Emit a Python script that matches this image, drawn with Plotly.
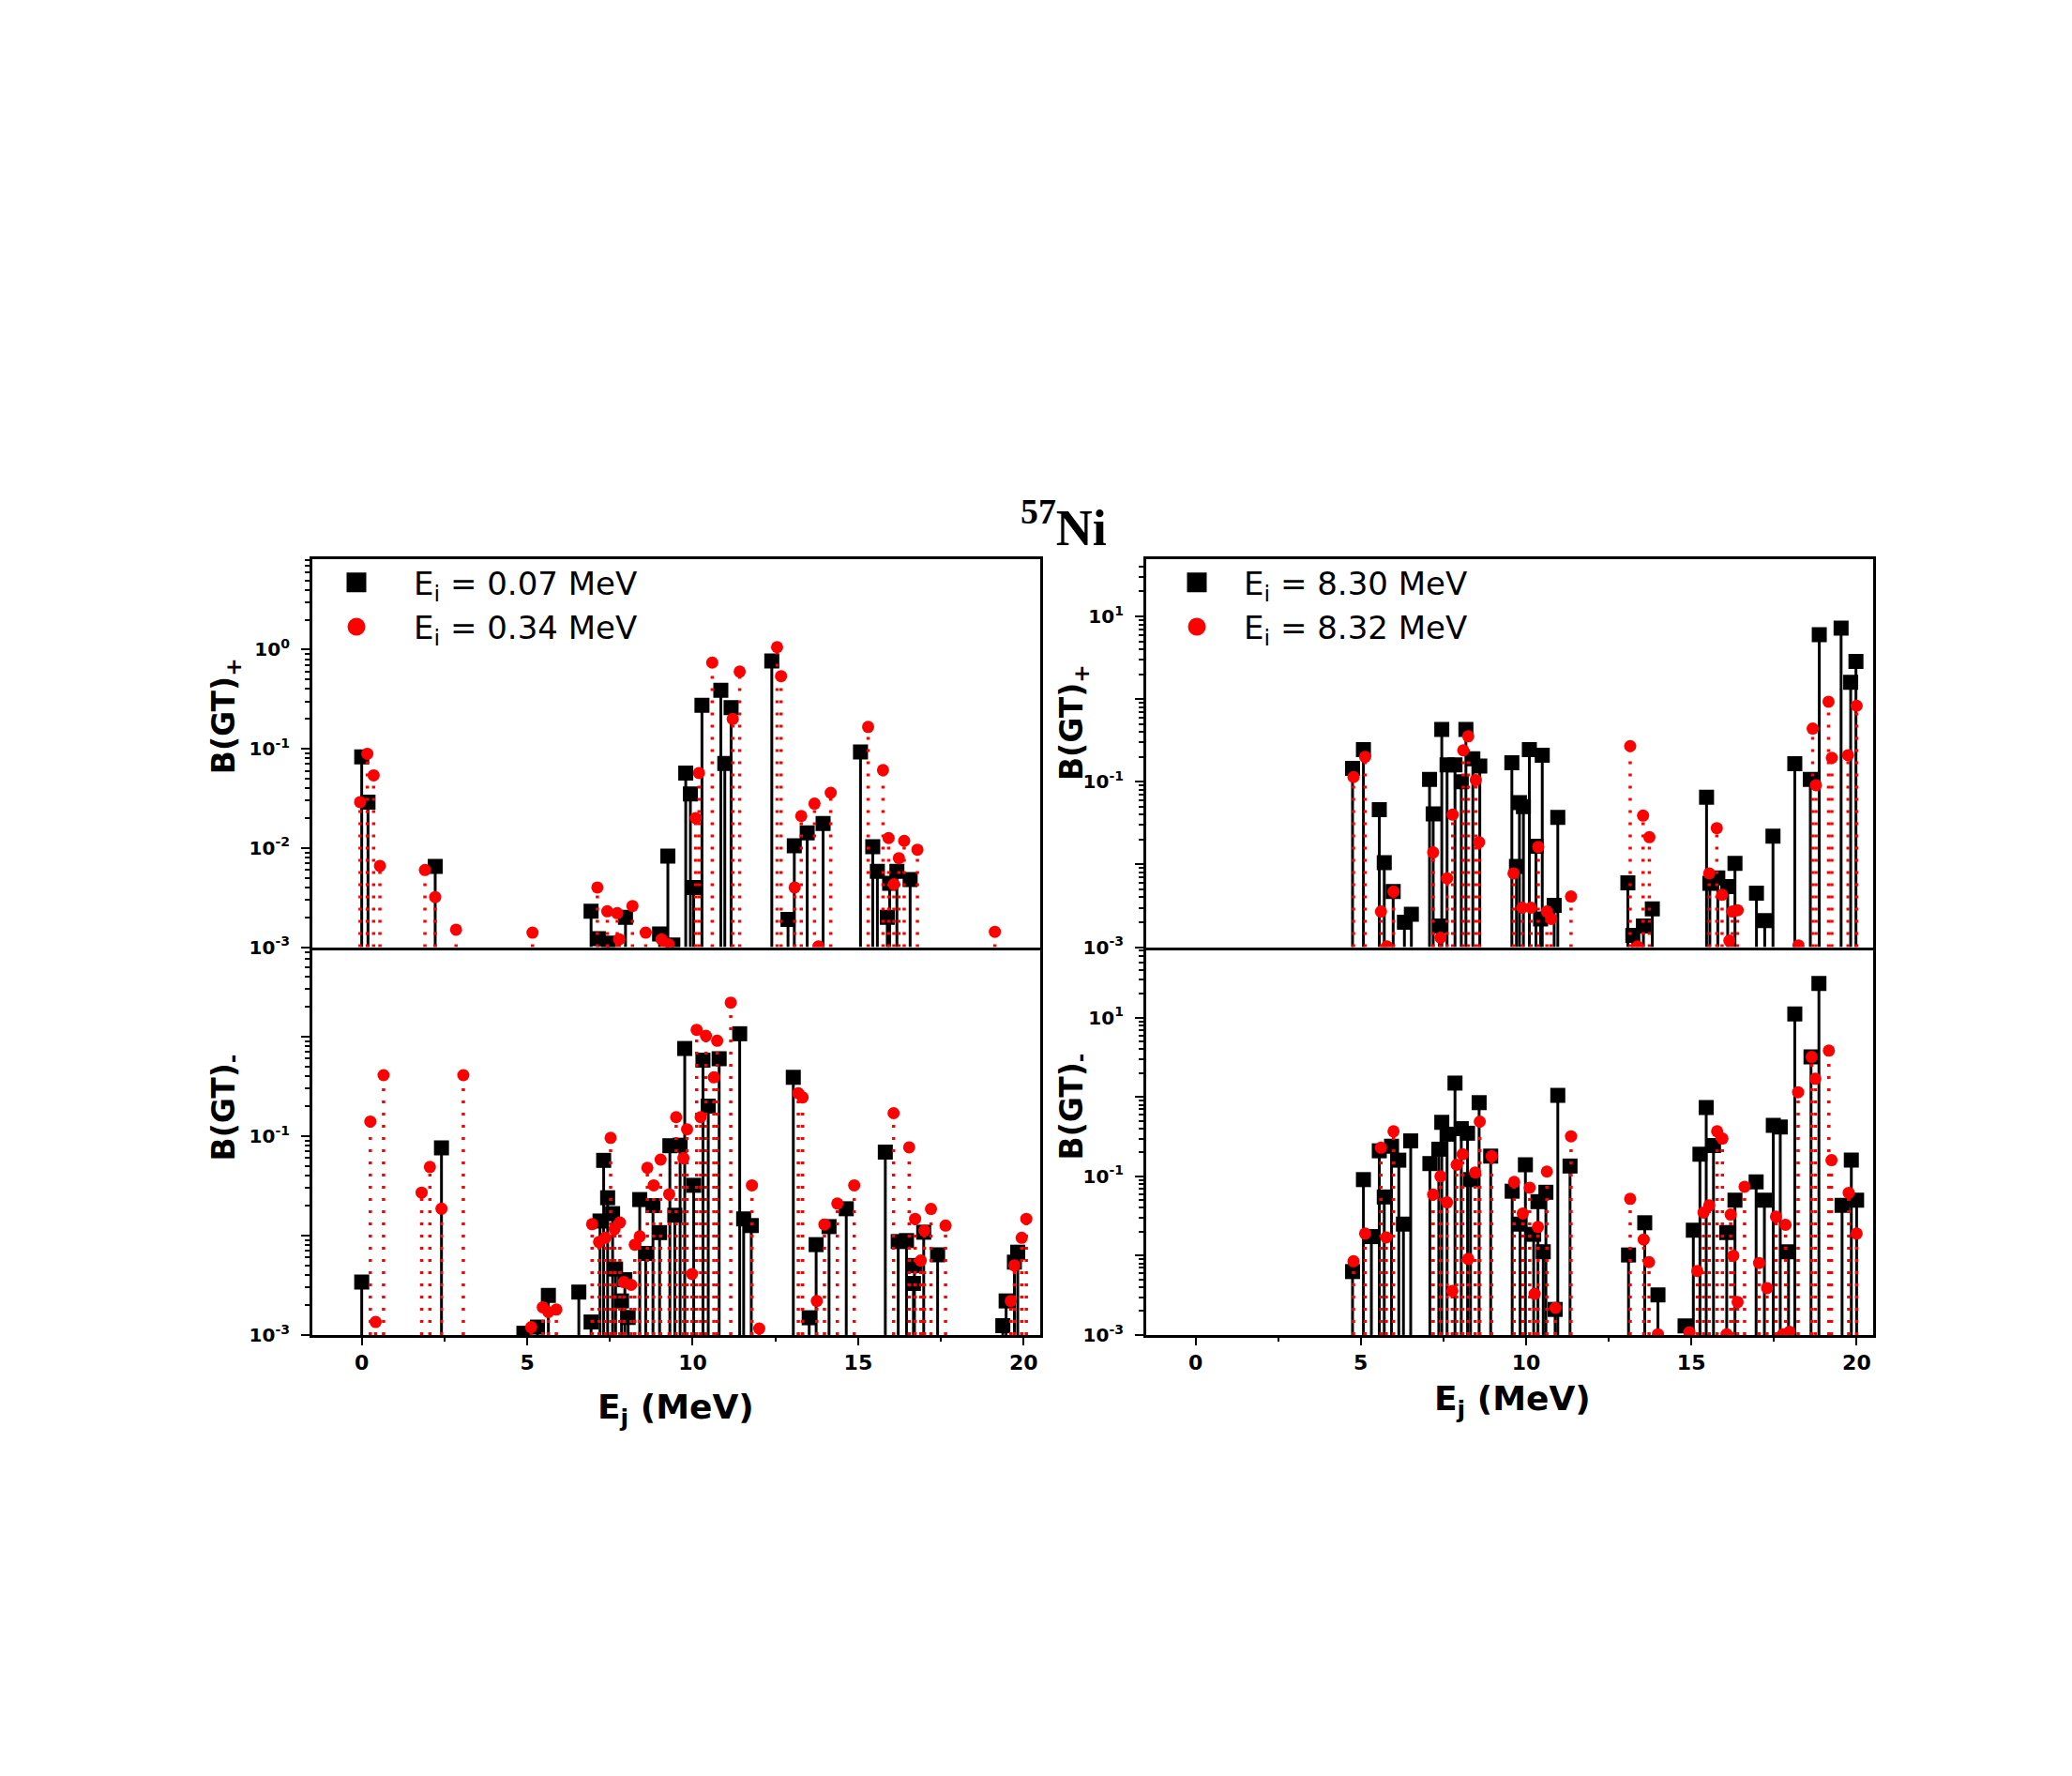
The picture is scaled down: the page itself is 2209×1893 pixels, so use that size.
import plotly.graph_objects as go

# B(GT)+ , left (Ei = 0.07 / 0.34 MeV)
tl_x_a = [0.0, 0.19, 2.22, 6.93, 7.15, 7.45, 7.97, 9.0, 9.25, 9.4, 9.79, 9.93, 10.03, 10.28, 10.85,
          10.97, 11.16, 12.39, 12.88, 13.07, 13.46, 13.94, 15.07, 15.44, 15.58, 15.88, 15.95, 16.17, 16.57]
tl_y_a = [0.083, 0.029, 0.0065, 0.0023, 0.00122, 0.0011, 0.0020, 0.00136, 0.0083, 0.00105, 0.057, 0.035,
          0.0040, 0.275, 0.39, 0.071, 0.26, 0.77, 0.0019, 0.0105, 0.0142, 0.0177, 0.093, 0.0103, 0.0058,
          0.0020, 0.0044, 0.0058, 0.0048]
tl_x_b = [-0.05, 0.17, 0.36, 0.55, 1.91, 2.22, 2.85, 5.16, 7.12, 7.42, 7.72, 7.78, 8.18, 8.58, 9.06, 9.27,
          10.09, 10.19, 10.59, 11.21, 11.42, 12.55, 12.67, 13.08, 13.28, 13.68, 13.8, 14.17, 15.30, 15.75,
          15.92, 16.08, 16.23, 16.39, 16.79, 19.13]
tl_y_b = [0.029, 0.089, 0.054, 0.0066, 0.0060, 0.0032, 0.0015, 0.0014, 0.0040, 0.0023, 0.0022, 0.0012,
          0.0026, 0.0014, 0.0012, 0.00107, 0.020, 0.057, 0.74, 0.20, 0.60, 1.06, 0.54, 0.0040, 0.021,
          0.028, 0.00102, 0.036, 0.166, 0.061, 0.0126, 0.0043, 0.0079, 0.0118, 0.0096, 0.00143]

# B(GT)- , left
bl_x_a = [0.0, 2.41, 4.9, 5.31, 5.64, 6.56, 6.93, 7.2, 7.31, 7.43, 7.58, 7.67, 7.85, 7.95, 8.05, 8.4, 8.58,
          8.8, 9.0, 9.31, 9.46, 9.62, 9.76, 10.03, 10.31, 10.47, 10.8, 11.42, 11.54, 11.77, 13.04, 13.52,
          13.73, 14.12, 14.64, 15.82, 16.21, 16.46, 16.67, 16.7, 16.98, 17.4, 19.37, 19.47, 19.72, 19.82]
bl_y_a = [0.0034, 0.076, 0.00104, 0.0012, 0.0025, 0.0027, 0.00135, 0.014, 0.057, 0.024, 0.0166, 0.0046,
          0.0022, 0.0036, 0.0015, 0.023, 0.0066, 0.020, 0.0107, 0.08, 0.016, 0.081, 0.76, 0.032, 0.58, 0.20,
          0.60, 1.07, 0.0147, 0.0126, 0.39, 0.00149, 0.0081, 0.0123, 0.0186, 0.069, 0.0087, 0.0089, 0.0033,
          0.0050, 0.0108, 0.0064, 0.00124, 0.0022, 0.0054, 0.0068]
bl_x_b = [0.26, 0.42, 0.66, 1.81, 2.06, 2.41, 3.07, 5.12, 5.47, 5.64, 5.88, 6.96, 7.17, 7.36, 7.52, 7.64,
          7.8, 7.92, 8.14, 8.25, 8.4, 8.63, 8.82, 9.03, 9.29, 9.5, 9.72, 9.83, 9.98, 10.12, 10.24, 10.4,
          10.64, 10.74, 11.15, 11.79, 12.01, 13.19, 13.32, 13.75, 13.98, 14.37, 14.88, 16.07, 16.54, 16.72,
          16.89, 17.0, 17.2, 17.64, 19.61, 19.72, 19.94, 20.08]
bl_y_b = [0.14, 0.00135, 0.41, 0.027, 0.049, 0.0186, 0.41, 0.0012, 0.0019, 0.0017, 0.0018, 0.0130, 0.0086,
          0.0095, 0.096, 0.0116, 0.0135, 0.0034, 0.0032, 0.0081, 0.0098, 0.048, 0.032, 0.058, 0.026, 0.155,
          0.060, 0.117, 0.0041, 1.17, 0.155, 1.02, 0.39, 0.91, 2.2, 0.032, 0.00116, 0.27, 0.245, 0.0022,
          0.0129, 0.021, 0.032, 0.17, 0.077, 0.0147, 0.0056, 0.0112, 0.0185, 0.0126, 0.0022, 0.0050, 0.0095,
          0.0147]

# B(GT)+ , right (Ei = 8.30 / 8.32 MeV)
tr_x_a = [4.75, 5.08, 5.56, 5.71, 5.98, 6.32, 6.53, 7.08, 7.19, 7.38, 7.45, 7.61, 7.85, 8.04, 8.18, 8.39,
          8.6, 9.57, 9.71, 9.8, 9.92, 10.1, 10.3, 10.44, 10.49, 10.85, 10.96, 13.08, 13.23, 13.55, 13.82,
          15.46, 15.56, 15.8, 16.1, 16.32, 16.97, 17.22, 17.47, 18.13, 18.6, 18.87, 19.53, 19.82, 19.98]
tr_y_a = [0.145, 0.245, 0.046, 0.0105, 0.0047, 0.0020, 0.0025, 0.107, 0.041, 0.0018, 0.43, 0.16, 0.16, 0.10,
          0.43, 0.19, 0.155, 0.17, 0.0095, 0.056, 0.050, 0.245, 0.0166, 0.0022, 0.21, 0.0032, 0.037, 0.0060,
          0.00139, 0.0018, 0.0029, 0.065, 0.0059, 0.0069, 0.0054, 0.0103, 0.0045, 0.0021, 0.022, 0.166,
          0.107, 6.0, 7.2, 1.6, 2.85]
tr_x_b = [4.78, 5.13, 5.61, 5.79, 5.99, 7.19, 7.41, 7.61, 7.78, 8.1, 8.25, 8.48, 8.58, 9.62, 9.88, 10.15,
          10.37, 10.63, 10.76, 11.36, 13.15, 13.37, 13.54, 13.73, 15.54, 15.77, 15.93, 16.15, 16.24, 16.4,
          18.24, 18.67, 18.77, 19.15, 19.25, 19.74, 20.0]
tr_y_b = [0.114, 0.20, 0.0027, 0.00102, 0.0047, 0.014, 0.0013, 0.0068, 0.040, 0.24, 0.355, 0.105, 0.0186,
          0.0078, 0.0030, 0.0030, 0.0163, 0.0027, 0.0022, 0.0041, 0.27, 0.00102, 0.039, 0.0214, 0.0078,
          0.0275, 0.0043, 0.0012, 0.0027, 0.0028, 0.00105, 0.44, 0.091, 0.93, 0.195, 0.21, 0.83]

# B(GT)- , right
br_x_a = [4.75, 5.08, 5.32, 5.56, 5.71, 5.93, 6.15, 6.29, 6.51, 7.09, 7.36, 7.45, 7.61, 7.85, 8.04, 8.23,
          8.32, 8.58, 8.93, 9.58, 9.82, 9.98, 10.23, 10.36, 10.52, 10.6, 10.88, 10.96, 11.33, 13.1, 13.59,
          13.99, 14.81, 15.06, 15.26, 15.45, 15.67, 16.07, 16.32, 16.96, 17.21, 17.48, 17.69, 17.94, 18.13,
          18.62, 18.86, 19.56, 19.84, 20.0]
br_y_a = [0.0063, 0.091, 0.0174, 0.21, 0.055, 0.24, 0.16, 0.025, 0.28, 0.145, 0.22, 0.48, 0.34, 1.5, 0.40,
          0.35, 0.091, 0.85, 0.18, 0.065, 0.025, 0.14, 0.0186, 0.048, 0.0112, 0.063, 0.0021, 1.05, 0.135,
          0.0102, 0.026, 0.0032, 0.0013, 0.021, 0.19, 0.74, 0.245, 0.0195, 0.050, 0.085, 0.050, 0.44, 0.42,
          0.0112, 11.2, 3.2, 27.0, 0.043, 0.16, 0.050]
br_x_b = [4.78, 5.13, 5.61, 5.77, 5.99, 7.19, 7.41, 7.61, 7.77, 7.9, 8.08, 8.25, 8.46, 8.6, 8.96, 9.64, 9.9,
          10.11, 10.26, 10.36, 10.63, 10.89, 11.36, 13.15, 13.56, 13.72, 13.99, 14.94, 15.18, 15.37, 15.54,
          15.78, 15.94, 16.07, 16.19, 16.27, 16.4, 16.61, 17.05, 17.29, 17.56, 17.77, 17.85, 17.97, 18.23,
          18.64, 18.75, 19.16, 19.24, 19.76, 20.0]
br_y_b = [0.0085, 0.019, 0.23, 0.017, 0.37, 0.059, 0.10, 0.047, 0.0036, 0.14, 0.19, 0.0091, 0.112, 0.49,
          0.18, 0.085, 0.034, 0.072, 0.0033, 0.023, 0.115, 0.0022, 0.32, 0.052, 0.016, 0.0083, 0.00102,
          0.00108, 0.0064, 0.035, 0.043, 0.37, 0.30, 0.00102, 0.033, 0.010, 0.0026, 0.074, 0.0081, 0.0039,
          0.031, 0.00102, 0.0245, 0.0011, 1.15, 3.2, 1.7, 3.85, 0.16, 0.062, 0.019]

labels_left = ["E<sub>i</sub> = 0.07 MeV", "E<sub>i</sub> = 0.34 MeV"]
labels_right = ["E<sub>i</sub> = 8.30 MeV", "E<sub>i</sub> = 8.32 MeV"]

BASE = 1e-3
SANS = "DejaVu Sans"


def stems(xs, ys):
    sx, sy = [], []
    for x, y in zip(xs, ys):
        sx += [x, x, None]
        sy += [BASE, y, None]
    return sx, sy


def add_panel(fig, n, xa, ya, xb, yb):
    ax = dict(xaxis="x" if n == 1 else f"x{n}", yaxis="y" if n == 1 else f"y{n}")
    sx, sy = stems(xa, ya)
    fig.add_trace(go.Scatter(x=sx, y=sy, mode="lines", line=dict(color="black", width=3),
                             showlegend=False, hoverinfo="skip", **ax))
    fig.add_trace(go.Scatter(x=xa, y=ya, mode="markers", showlegend=False,
                             marker=dict(symbol="square", size=16, color="black"), **ax))
    sx, sy = stems(xb, yb)
    fig.add_trace(go.Scatter(x=sx, y=sy, mode="lines", line=dict(color="red", width=3.5, dash="3px,10px"),
                             showlegend=False, hoverinfo="skip", **ax))
    fig.add_trace(go.Scatter(x=xb, y=yb, mode="markers", showlegend=False,
                             marker=dict(symbol="circle", size=13, color="red"), **ax))


def add_legend(fig, names, legend):
    # legend-only entries so the key symbols can be drawn larger than the data markers
    fig.add_trace(go.Scatter(x=[None], y=[None], mode="markers", name=names[0], legend=legend,
                             marker=dict(symbol="square", size=16, color="black",
                                         line=dict(color="black", width=5))))
    fig.add_trace(go.Scatter(x=[None], y=[None], mode="markers", name=names[1], legend=legend,
                             marker=dict(symbol="circle", size=16, color="red",
                                         line=dict(color="red", width=3))))


fig = go.Figure()
add_panel(fig, 1, tl_x_a, tl_y_a, tl_x_b, tl_y_b)
add_panel(fig, 2, bl_x_a, bl_y_a, bl_x_b, bl_y_b)
add_panel(fig, 3, tr_x_a, tr_y_a, tr_x_b, tr_y_b)
add_panel(fig, 4, br_x_a, br_y_a, br_x_b, br_y_b)
add_legend(fig, labels_left, "legend")
add_legend(fig, labels_right, "legend2")

W, H = 2209, 1893
left_dom = [332.7 / W, 1109 / W]
right_dom = [1221.7 / W, 1997 / W]
top_dom = [1 - 1016 / H, 1 - 600 / H]
bot_dom = [1 - 1432 / H, 1 - 1016 / H]


def xaxis(dom, anchor, labels):
    return dict(domain=dom, anchor=anchor, range=[-1.5, 20.5], showgrid=False, zeroline=False,
                showline=True, linecolor="black", linewidth=2.5, mirror=not labels,
                ticks="outside" if labels else "", ticklen=8, tickwidth=2, tickcolor="black",
                tick0=0, dtick=5, showticklabels=labels, ticklabelstandoff=0,
                tickfont=dict(family=SANS, size=22, color="black", weight="bold"),
                minor=dict(ticks="outside" if labels else "", ticklen=4, tickwidth=2, dtick=2.5,
                           tickcolor="black"))


def yaxis(dom, anchor, top, labelled):
    decades = list(range(-3, int(top) + 1))
    vals = [10.0 ** d for d in decades]
    text = [f"10<sup>{d}</sup>" if d in labelled else "" for d in decades]
    minor_vals = [k * 10.0 ** d for d in decades for k in range(2, 10) if k * 10.0 ** d < 10 ** top]
    return dict(domain=dom, anchor=anchor, type="log", range=[-3, top], showgrid=False, zeroline=False,
                showline=True, linecolor="black", linewidth=2.5, mirror=True,
                ticks="outside", ticklen=9, tickwidth=2, tickcolor="black",
                tickmode="array", tickvals=vals, ticktext=text, ticklabelstandoff=8,
                tickfont=dict(family=SANS, size=20, color="black", weight="bold"),
                minor=dict(ticks="outside", ticklen=5, tickwidth=1.5, tickcolor="black",
                           tickmode="array", tickvals=minor_vals))


legend_style = dict(font=dict(family=SANS, size=34, color="black"), bgcolor="rgba(0,0,0,0)",
                    itemsizing="trace", tracegroupgap=0, yanchor="top", xanchor="left")

fig.update_layout(
    width=W, height=H, margin=dict(l=0, r=0, t=0, b=0),
    plot_bgcolor="white", paper_bgcolor="white",
    xaxis=xaxis(left_dom, "y", False),
    xaxis2=xaxis(left_dom, "y2", True),
    xaxis3=xaxis(right_dom, "y3", False),
    xaxis4=xaxis(right_dom, "y4", True),
    yaxis=yaxis(top_dom, "x", 0.91, [-3, -2, -1, 0]),
    yaxis2=yaxis(bot_dom, "x2", 0.9, [-3, -1]),
    yaxis3=yaxis(top_dom, "x3", 1.69, [-3, -1, 1]),
    yaxis4=yaxis(bot_dom, "x4", 1.89, [-3, -1, 1]),
    legend=dict(x=319 / W, y=1 - 596 / H, itemwidth=112, **legend_style),
    legend2=dict(x=1226 / W, y=1 - 596 / H, itemwidth=90, **legend_style),
    showlegend=True,
)

title_font = dict(family=SANS, size=33, color="black", weight="bold")
xt_font = dict(family=SANS, size=36, color="black", weight="bold")
notes = [
    ("<sup>57</sup>Ni", 1134, 562, 0, dict(family="Liberation Serif", size=54, color="black", weight="bold")),
    ("B(GT)<sub>+</sub>", 240, 768, -90, title_font),
    ("B(GT)<sub>-</sub>", 240, 1188, -90, title_font),
    ("B(GT)<sub>+</sub>", 1144, 775, -90, title_font),
    ("B(GT)<sub>-</sub>", 1144, 1187, -90, title_font),
    ("E<sub>j</sub> (MeV)", 720, 1512, 0, xt_font),
    ("E<sub>j</sub> (MeV)", 1612, 1503, 0, xt_font),
]
for text, px, py, ang, font in notes:
    fig.add_annotation(text=text, x=px / W, y=1 - py / H, xref="paper", yref="paper",
                       showarrow=False, textangle=ang, font=font, xanchor="center", yanchor="middle")

fig.write_html("out.html", config={"displayModeBar": False},
               post_script="document.body.style.margin='0';")
